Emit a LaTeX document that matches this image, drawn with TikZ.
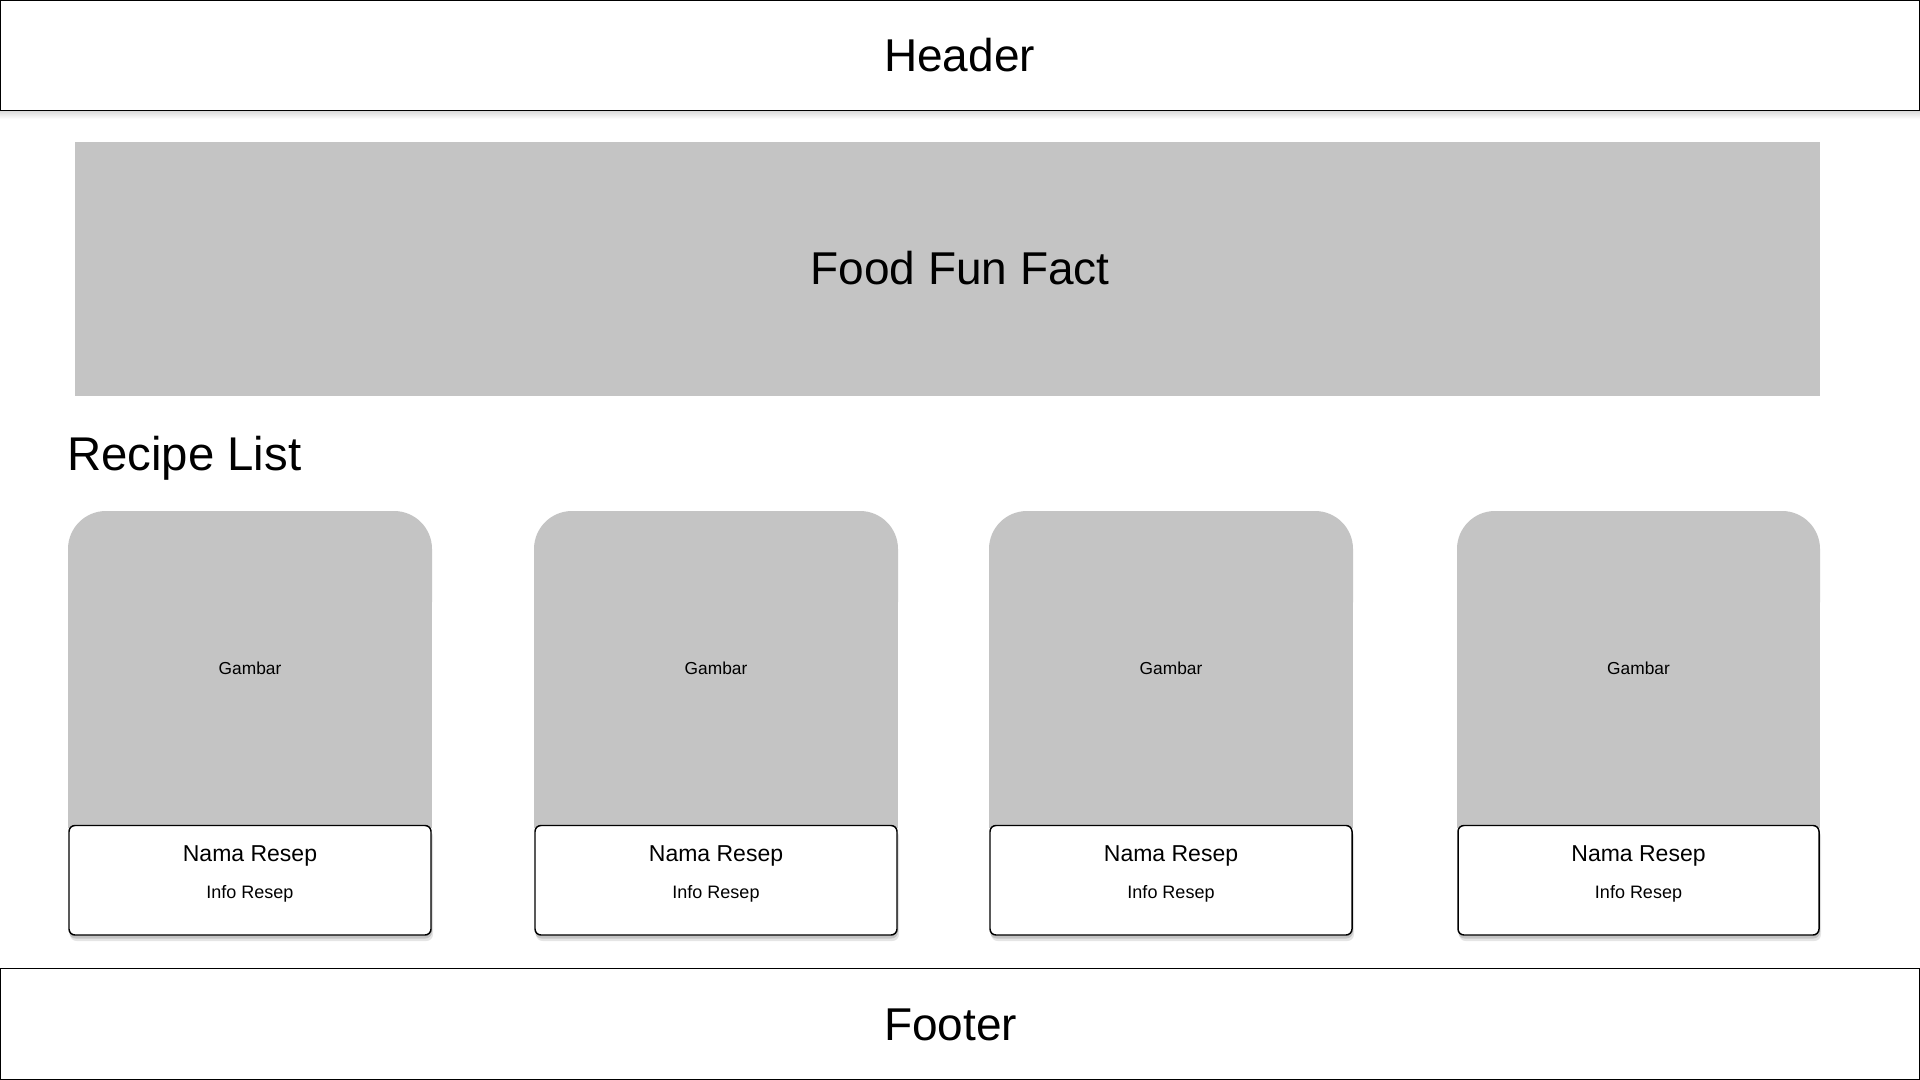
\documentclass[tikz,border=0pt]{standalone}
\usepackage{fontspec}
\setmainfont{Liberation Sans}
\definecolor{cardgray}{RGB}{196,196,196}
\tikzset{
  big/.style={inner sep=0pt, anchor=base, font=\fontsize{34.5pt}{40pt}\selectfont},
  mid/.style={inner sep=0pt, anchor=base, font=\fontsize{17.25pt}{20pt}\selectfont},
  small/.style={inner sep=0pt, anchor=base, font=\fontsize{13pt}{16pt}\selectfont},
  infotext/.style={inner sep=0pt, anchor=base, font=\fontsize{13.5pt}{16pt}\selectfont},
  frame/.style={draw=black, line width=1.1pt},
  infobox/.style={draw=black, fill=white, line width=1.1pt, rounded corners=4.5pt},
}
\begin{document}
\begin{tikzpicture}[x=0.75pt, y=-0.75pt]
\useasboundingbox (0,0) rectangle (1920,1080);
\fill[white] (0,0) rectangle (1920,1080);

% header
\shade[top color=black!14, bottom color=white] (0,111) rectangle (1920,119);
\draw[frame] (0.75,0.75) rectangle (1919.25,110.75);
\node[big] (header) at (959.5,72) {Header};

% food fun fact
\fill[cardgray] (75,142) rectangle (1820,396);
\node[big] (funfact) at (960,285) {Food Fun Fact};

% recipe list title
\node[big, anchor=base west, font=\fontsize{35.5pt}{40pt}\selectfont] (recipelist) at (67,470) {Recipe List};

% cards
\foreach \l/\r/\n in {68/432/1, 534/898/2, 989/1353/3, 1457/1820/4}{
  \fill[cardgray, rounded corners=28.5pt] (\l,511) rectangle (\r,640);
  \fill[cardgray] (\l,580) rectangle (\r,828);
  \node[small] (gambar\n) at ({(\l+\r)/2},674) {Gambar};
  \fill[black, opacity=0.10, rounded corners=5pt] (\l+2,830) rectangle (\r+1,941);
  \fill[black, opacity=0.14, rounded corners=5pt] (\l+1,827) rectangle (\r,938.5);
  \draw[infobox] (\l+1,825.5) rectangle (\r-1,935);
  \node[mid] (nama\n) at ({(\l+\r)/2},861) {Nama Resep};
  \node[infotext] (info\n) at ({(\l+\r)/2},898.5) {Info Resep};
}

% footer
\draw[frame] (0.75,968.75) rectangle (1919.25,1079.25);
\node[big] (footer) at (950.5,1040) {Footer};
\end{tikzpicture}
\end{document}
